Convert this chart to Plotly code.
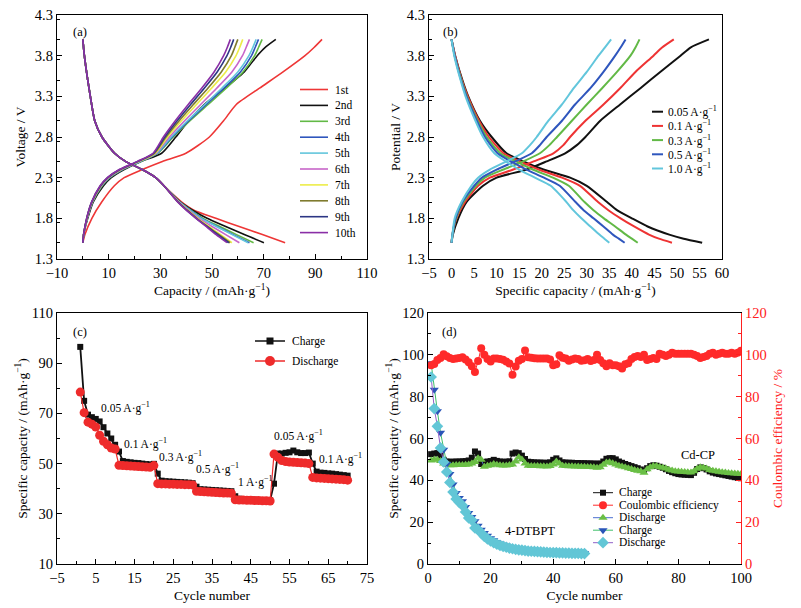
import plotly.graph_objects as go

W, H = 801, 608
OFF = 8  # the page body adds an 8 px margin, so lay out 8 px up/left
FONT = "Liberation Serif"
SUP = "mAh·g<sup>−1</sup>"

# ---------------- (a) first ten cycles at 0.05 A/g ----------------
A_LABELS = ["1st", "2nd", "3rd", "4th", "5th", "6th", "7th", "8th", "9th", "10th"]
A_COLORS = ["#ee3636", "#111111", "#62b946", "#2f56bd", "#62c6dc",
            "#c766c9", "#ecec48", "#7f7b2e", "#2c3684", "#8a2fa6"]
A_CHG_V = [1.5, 1.6, 1.8, 2.0, 2.2, 2.3, 2.4, 2.5, 2.6, 2.8, 3.0, 3.2, 3.4, 3.6, 3.8, 3.9, 4.0]
A_CHG_1 = [0, 0.8, 3.5, 7.3, 12.2, 16.0, 23.0, 30.8, 39.9, 49.0, 54.5, 59.4, 68.4, 77.5, 86.0, 89.5, 92.6]
A_CHG_2 = [0, 0.3, 1.9, 4.0, 8.0, 11.0, 16.0, 22.5, 30.5, 36.0, 41.0, 47.0, 55.0, 62.5, 67.5, 70.5, 74.7]
A_CHG_3 = [0, 0.3, 1.7, 3.8, 7.5, 10.5, 15.5, 22.5, 29.0, 35.0, 41.5, 48.5, 55.5, 62.0, 66.5, 68.0, 69.4]
A_CHG_4 = [0, 0.3, 1.7, 3.7, 7.3, 10.3, 15.3, 22.3, 28.8, 34.6, 41.0, 47.8, 54.6, 61.0, 65.3, 66.7, 68.0]
A_CHG_5 = [0, 0.3, 1.6, 3.6, 7.2, 10.1, 15.1, 22.1, 28.6, 34.2, 40.5, 47.2, 53.8, 60.0, 64.3, 65.8, 67.1]
A_CHG_6 = [0, 0.3, 1.6, 3.6, 7.1, 10.0, 14.9, 21.9, 28.3, 33.5, 39.4, 45.6, 51.8, 57.7, 61.8, 63.2, 64.5]
A_CHG_7 = [0, 0.3, 1.6, 3.5, 7.0, 9.8, 14.7, 21.7, 28.0, 32.8, 38.2, 44.0, 49.8, 55.3, 59.3, 60.7, 61.9]
A_CHG_8 = [0, 0.3, 1.5, 3.5, 6.9, 9.7, 14.5, 21.5, 27.7, 32.2, 37.3, 42.8, 48.4, 53.6, 57.5, 58.8, 60.0]
A_CHG_9 = [0, 0.3, 1.5, 3.4, 6.8, 9.6, 14.3, 21.3, 27.4, 31.7, 36.5, 41.7, 47.0, 52.0, 55.8, 57.2, 58.4]
A_CHG_10 = [0, 0.3, 1.5, 3.4, 6.7, 9.5, 14.1, 21.1, 27.2, 31.2, 35.8, 40.8, 46.0, 50.8, 54.5, 55.9, 57.1]
# discharge: all cycles overlap down to 2.2 V, then fan out
A_DIS_V = [4.0, 3.8, 3.5, 3.3, 3.0, 2.8, 2.6, 2.5, 2.4, 2.3, 2.2, 2.0, 1.9, 1.8, 1.7, 1.6, 1.5]
A_DIS_HEAD = [0, 0.6, 1.9, 2.9, 4.6, 7.4, 12.3, 16.5, 23.0, 28.2, 31.4]
A_DIS_1 = [38.3, 43.0, 51.5, 60.5, 69.5, 78.3]
A_DIS_2 = [37.8, 42.5, 48.1, 55.3, 62.5, 70.1]
A_DIS_3 = [37.6, 41.8, 46.5, 53.0, 59.5, 66.1]
A_DIS_4 = [37.5, 41.6, 46.0, 52.0, 58.2, 64.5]
A_DIS_5 = [37.4, 41.4, 45.8, 51.7, 57.8, 64.0]
A_DIS_6 = [37.2, 41.0, 45.0, 50.0, 55.3, 60.6]
A_DIS_7 = [37.0, 40.6, 44.4, 48.8, 53.3, 57.7]
A_DIS_8 = [36.9, 40.4, 44.1, 48.3, 52.7, 57.0]
A_DIS_9 = [36.8, 40.2, 43.9, 48.0, 52.2, 56.5]
A_DIS_10 = [36.7, 40.0, 43.8, 47.7, 51.6, 55.8]

# ---------------- (b) rate profiles ----------------
B_LABELS = ["0.05 A·g<sup>−1</sup>", "0.1 A·g<sup>−1</sup>", "0.3 A·g<sup>−1</sup>",
            "0.5 A·g<sup>−1</sup>", "1.0 A·g<sup>−1</sup>"]
B_COLORS = ["#111111", "#ee3333", "#62b946", "#2f56bd", "#62c6dc"]
B_CHG_V = [1.5, 1.6, 1.8, 2.0, 2.2, 2.3, 2.4, 2.5, 2.6, 2.7, 2.8, 3.0, 3.2, 3.4, 3.6, 3.8, 3.9, 4.0]
B_CHG_005 = [0, 0.3, 1.5, 3.3, 7.0, 10.0, 16.7, 21.1, 25.2, 27.8, 29.7, 33.0, 37.4, 41.9, 46.3, 50.8, 53.0, 57.1]
B_CHG_01 = [0, 0.2, 1.1, 3.0, 5.9, 8.5, 13.7, 18.2, 22.6, 24.8, 26.3, 29.7, 33.7, 37.4, 40.8, 44.8, 46.7, 49.3]
B_CHG_03 = [0, 0.2, 1.0, 2.6, 5.4, 7.4, 11.5, 15.9, 19.6, 21.7, 23.4, 26.7, 30.0, 33.4, 36.7, 39.7, 40.8, 41.7]
B_CHG_05 = [0, 0.2, 0.9, 2.4, 5.0, 6.7, 10.0, 14.1, 17.8, 19.6, 21.1, 24.5, 27.4, 30.8, 33.7, 36.3, 37.5, 38.6]
B_CHG_10 = [0, 0.2, 0.7, 2.2, 4.4, 5.9, 8.5, 12.2, 15.6, 17.4, 18.9, 21.5, 24.5, 27.1, 30.0, 32.6, 34.0, 35.4]
B_DIS_V = [4.0, 3.8, 3.5, 3.3, 3.0, 2.8, 2.6, 2.5, 2.4, 2.3, 2.2, 2.0, 1.9, 1.8, 1.7, 1.6, 1.55, 1.5]
B_DIS_005 = [0, 0.8, 2.4, 3.7, 6.3, 8.9, 12.2, 15.9, 20.4, 26.3, 30.0, 34.5, 36.7, 40.0, 43.5, 48.3, 51.5, 55.6]
B_DIS_01 = [0, 0.8, 2.3, 3.6, 6.1, 8.3, 11.5, 15.2, 19.3, 24.5, 28.5, 32.5, 34.8, 37.5, 40.5, 43.8, 46.0, 48.9]
B_DIS_03 = [0, 0.7, 2.2, 3.4, 5.8, 7.8, 10.8, 14.3, 18.0, 22.5, 26.0, 29.5, 31.5, 33.8, 36.3, 38.7, 40.0, 41.3]
B_DIS_05 = [0, 0.7, 2.1, 3.3, 5.6, 7.4, 10.2, 13.2, 16.6, 20.5, 24.0, 27.5, 29.3, 31.5, 33.7, 35.8, 37.1, 38.4]
B_DIS_10 = [0, 0.6, 2.0, 3.1, 5.3, 7.0, 9.5, 12.0, 15.0, 18.5, 22.0, 25.5, 27.0, 28.8, 30.8, 32.8, 33.9, 35.0]

# ---------------- (c) rate capability ----------------
C_CYCLE = list(range(1, 71))
C_CHARGE = [96.5, 75.0, 69.5, 68.5, 67.8, 66.8, 64.5, 62.0, 60.0, 57.5,
            54.8, 51.0, 50.7, 50.5, 50.3, 50.2, 50.0, 49.8, 49.7, 49.9,
            46.0, 43.2, 43.0, 42.9, 42.8, 42.7, 42.6, 42.5, 42.4, 42.2,
            40.8, 39.8, 39.7, 39.6, 39.5, 39.4, 39.3, 39.2, 39.1, 39.0,
            37.0, 36.0, 35.9, 35.8, 35.7, 35.6, 35.5, 35.5, 35.4, 35.4,
            42.0, 54.0, 54.0, 54.3, 54.5, 55.2, 54.5, 54.2, 54.2, 54.4,
            50.0, 46.8, 46.4, 46.3, 46.1, 46.0, 45.8, 45.6, 45.4, 45.2]
C_DISCHARGE = [78.5, 70.3, 66.5, 65.7, 64.6, 61.3, 58.9, 57.5, 56.2, 55.8,
               49.3, 49.2, 49.1, 49.0, 48.9, 48.8, 48.7, 48.6, 48.5, 49.2,
               42.0, 41.9, 41.9, 41.8, 41.8, 41.7, 41.7, 41.6, 41.6, 41.5,
               39.0, 38.9, 38.8, 38.7, 38.6, 38.5, 38.4, 38.3, 38.3, 38.2,
               35.6, 35.5, 35.5, 35.4, 35.4, 35.3, 35.3, 35.2, 35.2, 35.1,
               53.8, 52.5, 51.2, 50.8, 50.6, 50.5, 50.4, 50.3, 50.2, 50.0,
               44.5, 44.3, 44.2, 44.1, 44.0, 43.9, 43.8, 43.7, 43.6, 43.4]
C_RATES = ["0.05 A·g<sup>−1</sup>", "0.1 A·g<sup>−1</sup>", "0.3 A·g<sup>−1</sup>",
           "0.5 A·g<sup>−1</sup>", "1 A·g<sup>−1</sup>", "0.05 A·g<sup>−1</sup>",
           "0.1 A·g<sup>−1</sup>"]
C_RATE_AT = [(5.8, 72.5), (11.9, 58.2), (20.9, 53.0), (30.4, 48.2),
             (41.1, 42.9), (50.5, 61.3), (62.0, 52.2)]

# ---------------- (d) long cycling ----------------
D_CYCLE = list(range(1, 101))
D_CD_CHARGE = [52.5, 52.8, 53.0, 51.8, 49.8, 49.0, 48.9, 48.9, 49.0, 49.0,
               49.1, 49.2, 49.5, 50.8, 53.8, 52.8, 47.8, 48.8, 49.0, 49.2,
               49.8, 49.3, 49.0, 48.9, 48.9, 49.1, 52.8, 53.3, 53.0, 51.8,
               50.2, 48.9, 48.7, 48.6, 48.5, 48.5, 48.4, 48.4, 48.6, 49.8,
               50.5, 49.5, 48.6, 48.5, 48.4, 48.4, 48.3, 48.3, 48.2, 48.2,
               48.1, 48.1, 48.0, 48.0, 48.0, 49.0, 50.3, 50.6, 50.6, 50.0,
               49.0, 48.4, 47.8, 47.3, 46.8, 46.3, 45.8, 45.2, 44.5, 45.8,
               46.8, 47.2, 47.0, 46.5, 46.0, 45.3, 44.5, 43.9, 43.4, 43.0,
               42.8, 42.7, 42.6, 42.5, 43.6, 45.4, 46.2, 45.8, 45.2, 44.3,
               43.7, 43.3, 43.0, 42.7, 42.4, 42.1, 41.8, 41.5, 41.2, 41.0]
D_CD_CE = [95.0, 95.6, 97.5, 98.5, 100.3, 99.3, 98.5, 98.0, 98.3, 98.5,
           98.8, 97.8, 96.5, 94.5, 91.8, 97.0, 103.2, 100.0, 98.0, 96.8,
           98.3, 98.2, 98.0, 97.6, 96.8, 95.8, 90.5, 94.4, 97.2, 98.0,
           102.1, 98.8, 98.6, 98.4, 98.3, 98.2, 98.2, 98.2, 97.8, 95.0,
           95.5, 99.8, 98.6, 98.2, 97.2, 97.8, 98.2, 98.0, 97.2, 97.4,
           98.0, 97.0, 97.5, 100.0, 97.5, 96.0, 94.5, 96.0, 95.0, 95.0,
           94.5, 93.5, 95.5, 96.0, 98.0, 99.0, 99.5, 99.0, 100.0, 97.5,
           98.0, 98.5, 98.0, 100.5, 100.0, 99.5, 100.0, 101.0, 100.5, 100.5,
           100.5, 100.5, 100.5, 100.5, 100.0, 99.5, 98.5, 99.0, 99.5, 100.5,
           101.0, 100.0, 100.5, 101.0, 100.5, 100.5, 101.0, 100.5, 101.0, 102.0]
D_CD_DISCHARGE = [49.5, 50.0, 49.8, 49.2, 48.0, 47.3, 47.2, 47.2, 47.3, 47.3,
                  47.3, 47.4, 47.6, 48.0, 48.8, 50.5, 49.8, 46.5, 47.0, 47.2,
                  47.8, 47.4, 47.2, 47.1, 47.1, 47.3, 47.6, 49.0, 51.0, 50.0,
                  48.0, 47.0, 46.9, 46.8, 46.8, 46.7, 46.7, 46.6, 46.8, 47.6,
                  49.0, 48.0, 47.0, 46.8, 46.7, 46.7, 46.6, 46.6, 46.5, 46.5,
                  46.4, 46.4, 46.3, 46.0, 46.2, 47.5, 48.5, 48.6, 48.2, 47.6,
                  47.0, 46.6, 46.2, 45.8, 45.4, 45.0, 44.6, 44.3, 43.6, 45.3,
                  46.3, 46.8, 46.8, 46.4, 46.0, 45.6, 45.1, 44.7, 44.4, 44.2,
                  44.1, 44.0, 43.9, 43.8, 44.3, 45.5, 46.3, 46.0, 45.6, 45.0,
                  44.6, 44.3, 44.1, 43.9, 43.7, 43.5, 43.4, 43.3, 43.2, 43.0]
D_DT_CYCLE = list(range(1, 51))
D_DT_CHARGE = [96.0, 83.3, 73.0, 62.8, 54.6, 47.8, 43.0, 38.0, 34.0, 31.6,
               30.0, 27.3, 24.4, 22.5, 20.4, 18.3, 16.4, 14.8, 13.5, 12.3,
               11.3, 10.5, 9.8, 9.2, 8.7, 8.3, 7.9, 7.6, 7.3, 7.0,
               6.8, 6.6, 6.4, 6.3, 6.1, 6.0, 5.9, 5.8, 5.7, 5.6,
               5.6, 5.5, 5.5, 5.4, 5.4, 5.3, 5.3, 5.3, 5.2, 5.2]
D_DT_DISCHARGE = [89.4, 74.3, 65.8, 55.5, 48.8, 44.0, 39.0, 34.4, 31.1, 29.5,
                  28.0, 24.9, 22.0, 21.0, 17.2, 16.4, 14.8, 13.2, 12.0, 11.0,
                  10.2, 9.5, 8.9, 8.4, 8.0, 7.6, 7.3, 7.0, 6.8, 6.6,
                  6.4, 6.2, 6.1, 6.0, 5.9, 5.8, 5.7, 5.6, 5.5, 5.4,
                  5.4, 5.3, 5.3, 5.2, 5.2, 5.1, 5.1, 5.1, 5.0, 5.0]


def xdom(left, right):
    return [(left - OFF) / W, (right - OFF) / W]


def ydom(top, bottom):
    return [1 - (bottom - OFF) / H, 1 - (top - OFF) / H]


def frame(color="black", **kw):
    style = dict(
        showline=True, linecolor=color, linewidth=1.3, mirror=True, automargin=False,
        ticks="inside", ticklen=5, tickwidth=1.2, tickcolor=color,
        showgrid=False, zeroline=False, ticklabeloverflow="allow",
        tickfont=dict(family=FONT, size=14.5, color=color),
        title_font=dict(family=FONT, size=13.5, color=color),
    )
    style.update(kw)
    return style


def minor(step, color="black"):
    return dict(dtick=step, ticks="inside", ticklen=3, tickwidth=1, tickcolor=color, showgrid=False)


fig = go.Figure()

# (a)
a_charge = [A_CHG_1, A_CHG_2, A_CHG_3, A_CHG_4, A_CHG_5, A_CHG_6, A_CHG_7, A_CHG_8, A_CHG_9, A_CHG_10]
a_tails = [A_DIS_1, A_DIS_2, A_DIS_3, A_DIS_4, A_DIS_5, A_DIS_6, A_DIS_7, A_DIS_8, A_DIS_9, A_DIS_10]
for cap, tail, color in zip(a_charge, a_tails, A_COLORS):
    line = dict(color=color, width=1.6, shape="spline", smoothing=0.6)
    fig.add_trace(go.Scatter(x=cap, y=A_CHG_V, mode="lines", line=line, xaxis="x", yaxis="y"))
    fig.add_trace(go.Scatter(x=A_DIS_HEAD + tail, y=A_DIS_V, mode="lines", line=line, xaxis="x", yaxis="y"))

# (b)
b_charge = [B_CHG_005, B_CHG_01, B_CHG_03, B_CHG_05, B_CHG_10]
b_dis = [B_DIS_005, B_DIS_01, B_DIS_03, B_DIS_05, B_DIS_10]
for cap, dis, color in zip(b_charge, b_dis, B_COLORS):
    line = dict(color=color, width=2, shape="spline", smoothing=0.6)
    fig.add_trace(go.Scatter(x=cap, y=B_CHG_V, mode="lines", line=line, xaxis="x2", yaxis="y2"))
    fig.add_trace(go.Scatter(x=dis, y=B_DIS_V, mode="lines", line=line, xaxis="x2", yaxis="y2"))

# (c)
fig.add_trace(go.Scatter(x=C_CYCLE, y=C_CHARGE, mode="lines+markers", xaxis="x3", yaxis="y3",
                         line=dict(color="#111111", width=1.8),
                         marker=dict(symbol="square", size=6, color="#111111")))
fig.add_trace(go.Scatter(x=C_CYCLE, y=C_DISCHARGE, mode="lines+markers", xaxis="x3", yaxis="y3",
                         line=dict(color="#ee2b2b", width=1.2),
                         marker=dict(symbol="circle", size=9, color="#ee2b2b")))
for text, (cx, cy) in zip(C_RATES, C_RATE_AT):
    fig.add_annotation(x=cx, y=cy, xref="x3", yref="y3", text=text, showarrow=False,
                       xanchor="left", yanchor="middle", font=dict(family=FONT, size=11.5, color="black"))

# (d)
D_SERIES = [
    ("Charge", D_CYCLE, D_CD_CHARGE, "y4", "#111111", "square", "#111111", 6),
    ("Coulombic efficiency", D_CYCLE, D_CD_CE, "y5", "#ff2a2a", "circle", "#ff2a2a", 8),
    ("Discharge", D_CYCLE, D_CD_DISCHARGE, "y4", "#4a6fd0", "triangle-up", "#6abf45", 8),
    ("Charge", D_DT_CYCLE, D_DT_CHARGE, "y4", "#3fbf6a", "triangle-down", "#2a55b8", 8),
    ("Discharge", D_DT_CYCLE, D_DT_DISCHARGE, "y4", "#9060c8", "diamond", "#62c6d6", 9),
]
for name, xs, ys, yax, lcol, sym, mcol, size in D_SERIES:
    fig.add_trace(go.Scatter(x=xs, y=ys, mode="lines+markers", xaxis="x4", yaxis=yax,
                             line=dict(color=lcol, width=1),
                             marker=dict(symbol=sym, size=size, color=mcol)))
fig.add_annotation(x=80.3, y=52.2, xref="x4", yref="y4", text="Cd-CP", showarrow=False,
                   xanchor="left", font=dict(family=FONT, size=12.5, color="black"))
fig.add_annotation(x=23.9, y=15.6, xref="x4", yref="y4", text="4-DTBPT", showarrow=False,
                   xanchor="left", font=dict(family=FONT, size=12.5, color="black"))

# legends and panel letters, drawn on a pixel-space overlay (reference-image pixels)
LEGENDS = [
    (list(zip(A_LABELS, A_COLORS, [None] * 10, A_COLORS, [0] * 10)), 300, 328, 333, 89.5, 15.9, 1.6),
    (list(zip(B_LABELS, B_COLORS, [None] * 5, B_COLORS, [0] * 5)), 652, 663, 666, 111.7, 14.2, 2),
    ([("Charge", "#111111", "square", "#111111", 7),
      ("Discharge", "#ee2b2b", "circle", "#ee2b2b", 10)], 255, 285, 290, 341, 20, 1.5),
    ([(s[0], s[4], s[5], s[6], s[7]) for s in D_SERIES], 593, 613, 617, 492.7, 12.5, 1),
]
for entries, x0, x1, xt, y0, dy, lw in LEGENDS:
    for i, (label, lcol, sym, mcol, size) in enumerate(entries):
        y = y0 + i * dy
        fig.add_trace(go.Scatter(x=[x0, x1], y=[y, y], mode="lines", xaxis="x9", yaxis="y9",
                                 line=dict(color=lcol, width=lw)))
        if sym:
            fig.add_trace(go.Scatter(x=[(x0 + x1) / 2], y=[y], mode="markers", xaxis="x9", yaxis="y9",
                                     marker=dict(symbol=sym, size=size, color=mcol)))
        fig.add_annotation(x=xt, y=y, xref="x9", yref="y9", text=label, showarrow=False,
                           xanchor="left", yanchor="middle", font=dict(family=FONT, size=11.5, color="black"))

for letter, px, py in [("(a)", 71, 32), ("(b)", 441, 32), ("(c)", 71, 332), ("(d)", 440, 332)]:
    fig.add_annotation(x=px, y=py, xref="x9", yref="y9", text=letter, showarrow=False,
                       xanchor="left", yanchor="middle", font=dict(family=FONT, size=12.5, color="black"))

fig.update_layout(
    width=W, height=H, margin=dict(l=0, r=0, t=0, b=0, autoexpand=False),
    paper_bgcolor="white", plot_bgcolor="rgba(0,0,0,0)", showlegend=False,
    font=dict(family=FONT, size=14, color="black"),
    xaxis=frame(domain=xdom(57, 367), anchor="y", range=[-10, 110], tick0=-10, dtick=20, minor=minor(10),
                title=dict(text=f"Capacity / ({SUP})", standoff=6)),
    yaxis=frame(domain=ydom(15, 259), anchor="x", range=[1.3, 4.3], tick0=1.3, dtick=0.5,
                tickformat=".1f", minor=minor(0.25), title=dict(text="Voltage / V", standoff=6)),
    xaxis2=frame(domain=xdom(429, 722), anchor="y2", range=[-5, 60], tick0=-5, dtick=5, ticks="",
                 title=dict(text=f"Specific capacity / ({SUP})", standoff=6)),
    yaxis2=frame(domain=ydom(15, 259), anchor="x2", range=[1.3, 4.3], tick0=1.3, dtick=0.5,
                 tickformat=".1f", minor=minor(0.25), title=dict(text="Potential / V", standoff=3)),
    xaxis3=frame(domain=xdom(57, 367), anchor="y3", range=[-5, 75], tick0=-5, dtick=10, minor=minor(5),
                 title=dict(text="Cycle number", standoff=6)),
    yaxis3=frame(domain=ydom(313, 564), anchor="x3", range=[10, 110], tick0=10, dtick=20, minor=minor(10),
                 title=dict(text=f"Specific capacity / ({SUP})", standoff=1)),
    xaxis4=frame(domain=xdom(428, 741), anchor="y4", range=[0, 100], dtick=20, minor=minor(10),
                 title=dict(text="Cycle number", standoff=6)),
    yaxis4=frame(domain=ydom(313, 564), anchor="x4", range=[0, 120], dtick=20, minor=minor(10), mirror=False,
                 title=dict(text=f"Specific capacity / ({SUP})", standoff=0)),
    yaxis5=frame("#ff2020", overlaying="y4", anchor="x4", side="right", range=[0, 120], dtick=20,
                 minor=minor(10, "#ff2020"), mirror=False,
                 title=dict(text="Coulombic efficiency / %", standoff=6)),
    xaxis9=dict(domain=[0, 1], anchor="y9", range=[OFF, W + OFF], visible=False, fixedrange=True, automargin=False),
    yaxis9=dict(domain=[0, 1], anchor="x9", range=[H + OFF, OFF], visible=False, fixedrange=True, automargin=False),
)

fig.write_html("out.html")
